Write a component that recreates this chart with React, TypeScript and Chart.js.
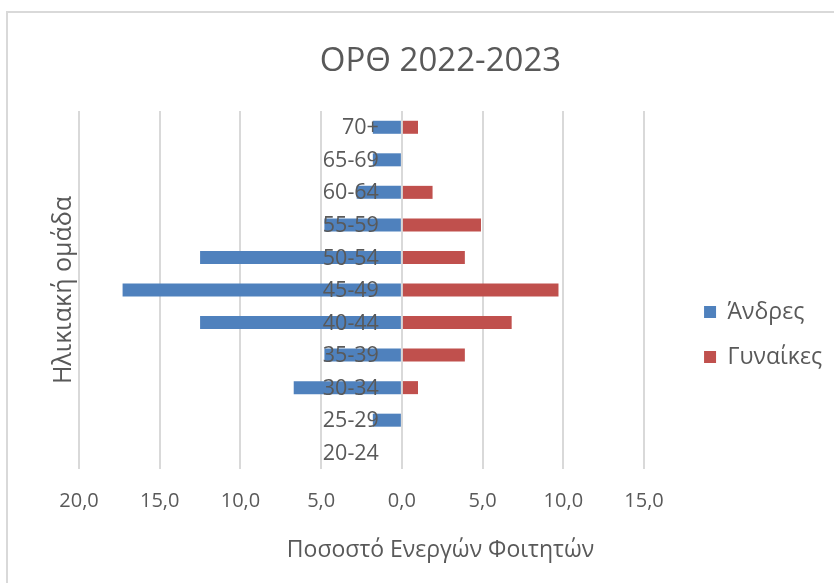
import React, { useEffect, useRef } from 'react';
import { Chart, registerables } from 'chart.js';

Chart.register(...registerables);

// ---- data ----
const ageGroups = ['20-24', '25-29', '30-34', '35-39', '40-44', '45-49', '50-54', '55-59', '60-64', '65-69', '70+'];
const menPct = [0, 1.8, 6.7, 4.8, 12.5, 17.3, 12.5, 4.8, 2.8, 1.8, 1.8];
const womenPct = [0, 0, 1.0, 3.9, 6.8, 9.7, 3.9, 4.9, 1.9, 0, 1.0];
const seriesNames = ['Άνδρες', 'Γυναίκες'];
const xMin = -20;
const xMax = 15;
const xStep = 5;
const chartTitle = 'ΟΡΘ 2022-2023';
const xAxisTitle = 'Ποσοστό Ενεργών Φοιτητών';
const yAxisTitle = 'Ηλικιακή ομάδα';

const FONT = '"Open Sans", "Noto Sans", sans-serif';
const TEXT = '#595959';

const centerLabels = {
  id: 'centerLabels',
  afterDatasetsDraw(chart: any) {
    const { ctx, scales } = chart;
    const x = scales.x;
    const y = scales.y;
    ctx.save();
    ctx.font = `21.5px ${FONT}`;
    ctx.fillStyle = TEXT;
    ctx.textAlign = 'right';
    ctx.textBaseline = 'middle';
    const x0 = x.getPixelForValue(0) - 23;
    (chart.data.labels as string[]).forEach((lab, i) => {
      ctx.fillText(lab, x0, y.getPixelForValue(i) + 1);
    });
    ctx.restore();
  },
};

export default function App() {
  const ref = useRef<HTMLCanvasElement | null>(null);

  useEffect(() => {
    if (!ref.current) return;
    Chart.defaults.font.family = FONT;
    Chart.defaults.color = TEXT;
    const chart = new Chart(ref.current, {
      type: 'bar',
      data: {
        labels: ageGroups,
        datasets: [
          {
            label: seriesNames[0],
            data: menPct.map((v) => -v),
            backgroundColor: '#4F81BD',
            borderWidth: 0,
            barPercentage: 0.5,
            categoryPercentage: 0.8,
          },
          {
            label: seriesNames[1],
            data: womenPct,
            backgroundColor: '#C0504D',
            borderWidth: 0,
            barPercentage: 0.5,
            categoryPercentage: 0.8,
          },
        ],
      },
      options: {
        indexAxis: 'y',
        animation: false,
        responsive: false,
        layout: { padding: { left: 49, right: 2, top: 0, bottom: 0 } },
        scales: {
          x: {
            type: 'linear',
            stacked: true,
            min: xMin,
            max: xMax,
            ticks: {
              stepSize: xStep,
              padding: 20.5,
              font: { size: 20 },
              color: TEXT,
              callback: (v: any) => Math.abs(Number(v)).toFixed(1).replace('.', ','),
            },
            grid: { color: '#d9d9d9', lineWidth: 2, drawTicks: false },
            border: { display: false },
          },
          y: {
            type: 'category',
            stacked: true,
            reverse: true,
            position: 'left',
            ticks: { display: false },
            grid: { display: false, drawTicks: false },
            border: { display: false },
            title: {
              display: true,
              text: yAxisTitle,
              font: { size: 25 },
              color: TEXT,
              padding: { top: 0, bottom: 0 },
            },
          },
          gap: {
            type: 'linear',
            position: 'right',
            display: true,
            ticks: { display: false },
            grid: { display: false, drawTicks: false },
            border: { display: false },
            afterFit: (s: any) => {
              s.width = 38;
            },
          },
        },
        plugins: {
          title: {
            display: true,
            text: chartTitle,
            font: { size: 33, weight: 'normal' },
            color: TEXT,
            padding: { top: 42.2, bottom: 29.2 },
          },
          subtitle: {
            display: true,
            position: 'bottom',
            text: xAxisTitle,
            font: { size: 23 },
            color: TEXT,
            padding: { top: 2.2, bottom: 19.2 },
          },
          legend: {
            position: 'right',
            maxWidth: 400,
            title: { display: true, text: ' ', font: { size: 20 }, padding: { top: 62, bottom: 0 } },
            labels: {
              boxWidth: 12,
              boxHeight: 12,
              padding: 22,
              font: { size: 23 },
              color: TEXT,
            },
          },
          tooltip: { enabled: false },
        },
      },
      plugins: [centerLabels],
    });
    return () => chart.destroy();
  }, []);

  return (
    <div style={{ position: 'absolute', left: 0, top: 0, width: 834, height: 583, overflow: 'hidden', background: '#fff' }}>
      <div
        style={{
          position: 'absolute',
          left: 6,
          top: 11,
          right: 0,
          bottom: 0,
          borderTop: '2px solid #d9d9d9',
          borderLeft: '2px solid #d9d9d9',
        }}
      />
      <canvas ref={ref} width={834} height={583} style={{ position: 'absolute', left: 0, top: 0 }} />
    </div>
  );
}
